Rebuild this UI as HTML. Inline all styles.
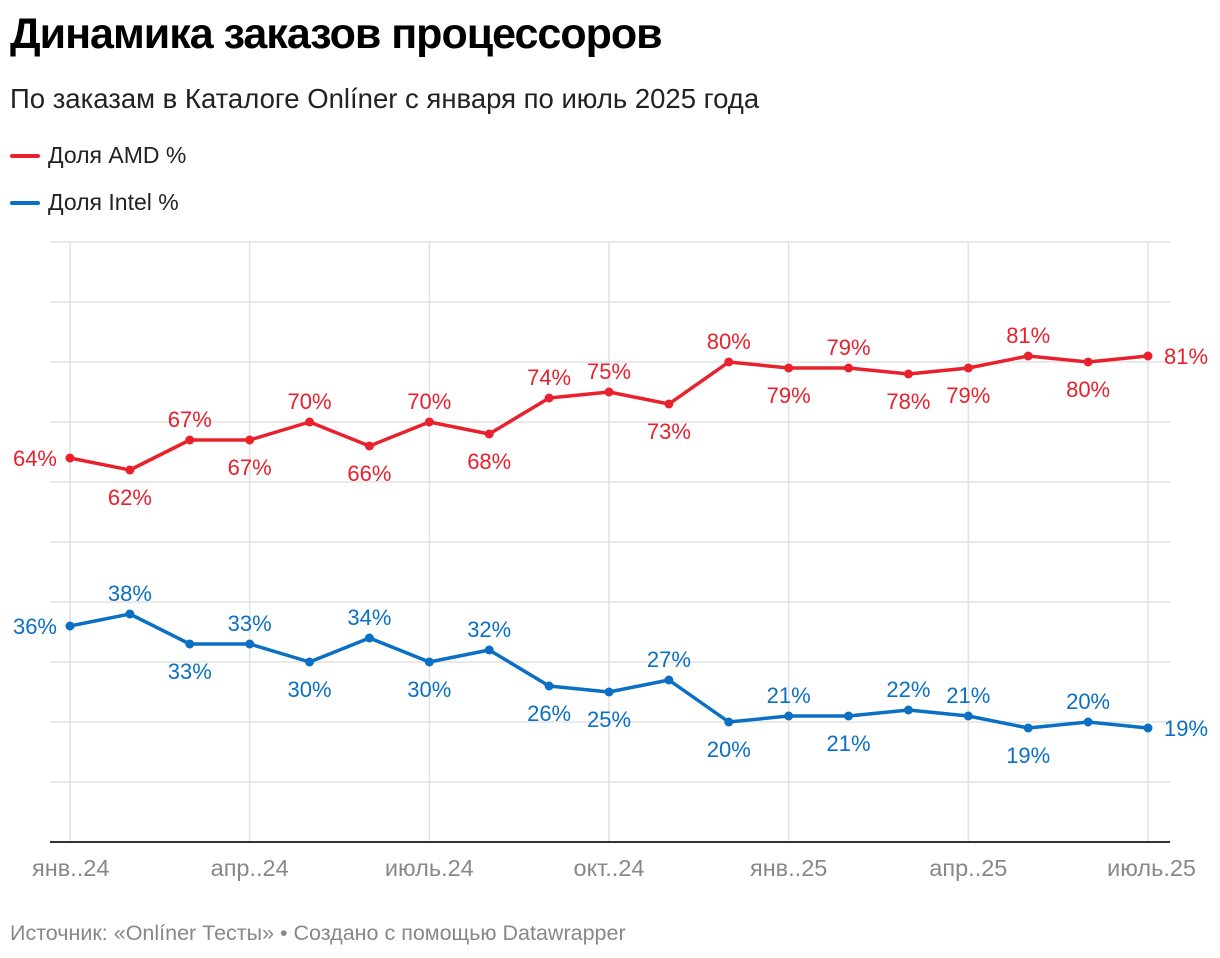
<!DOCTYPE html>
<html><head><meta charset="utf-8"><style>
body{margin:0;width:1220px;height:958px;background:#fff;font-family:"Liberation Sans","Noto Sans CJK SC",sans-serif;overflow:hidden}
.t{position:absolute;left:10px;top:10px;font-size:43px;font-weight:bold;color:#000;letter-spacing:-1px}
.s{position:absolute;left:10px;top:83px;font-size:27.5px;color:#222}
.lg{position:absolute;left:10px;font-size:23px;color:#222;display:flex;align-items:center}
.lg i{display:inline-block;width:30px;height:4px;border-radius:2px;margin-right:8px}
.f{position:absolute;left:10px;top:921px;font-size:21.5px;color:#888}
</style></head><body>
<div class="t">Динамика заказов процессоров</div>
<div class="s">По заказам в Каталоге Onlíner с января по июль 2025 года</div>
<div class="lg" style="top:142px"><i style="background:#e8212d"></i>Доля AMD %</div>
<div class="lg" style="top:189px"><i style="background:#0b6fc4"></i>Доля Intel %</div>
<svg id="c" width="1220" height="958" style="position:absolute;left:0;top:0"></svg>
<div class="f">Источник: «Onlíner Тесты» • Создано с помощью Datawrapper</div>
<script>
const months=["янв..24","","","апр..24","","","июль.24","","","окт..24","","","янв..25","","","апр..25","","","июль.25"];
const amd=[64,62,67,67,70,66,70,68,74,75,73,80,79,79,78,79,81,80,81];
const intel=[36,38,33,33,30,34,30,32,26,25,27,20,21,21,22,21,19,20,19];
const amdPos=["l","b","a","b","a","b","a","b","a","a","b","a","b","a","b","b","a","b","r"];
const intelPos=["l","a","b","a","b","a","b","a","b","b","a","b","a","b","a","a","b","a","r"];
const yTicks=[0,10,20,30,40,50,60,70,80,90,100];
const svg=document.getElementById('c');const NS="http://www.w3.org/2000/svg";
const x=i=>70+i*(1148-70)/(months.length-1);
const y=v=>842-v*6;
function el(t,a){const e=document.createElementNS(NS,t);for(const k in a)e.setAttribute(k,a[k]);svg.appendChild(e);return e;}
yTicks.forEach(v=>{if(v===0)return;const g=el('line',{x1:50,x2:1170,y1:y(v),y2:y(v),stroke:'#e2e2e2','stroke-width':1.5});

});
months.forEach((m,i)=>{if(!m)return;const g=el('line',{x1:x(i),x2:x(i),y1:242,y2:842,stroke:'#e2e2e2','stroke-width':1.5});


const last=i===months.length-1;
const t=el('text',{x:i===0?32:(last?1196:x(i)),y:876,'font-size':23.5,fill:'#888','text-anchor':i===0?'start':(last?'end':'middle')});t.textContent=m;

});
const ax=el('line',{x1:50,x2:1170,y1:842,y2:842,stroke:'#333','stroke-width':2});


function series(d,pos,col,name){
const p=el('polyline',{points:d.map((v,i)=>x(i)+','+y(v)).join(' '),fill:'none',stroke:col,'stroke-width':3.5,'stroke-linejoin':'round'});


d.forEach((v,i)=>{const c=el('circle',{cx:x(i),cy:y(v),r:4.5,fill:col});


let tx=x(i),ty=y(v),an='middle';const ps=pos[i];
if(ps==='a')ty-=13;else if(ps==='b')ty+=35;else if(ps==='l'){tx-=13;an='end';ty+=8;}else{tx+=16;an='start';ty+=8;}
const t=el('text',{x:tx,y:ty,'font-size':22,fill:col,'text-anchor':an});t.textContent=v+'%';

});}
series(amd,amdPos,'#e8212d','amd');
series(intel,intelPos,'#0b6fc4','intel');
</script>
</body></html>
